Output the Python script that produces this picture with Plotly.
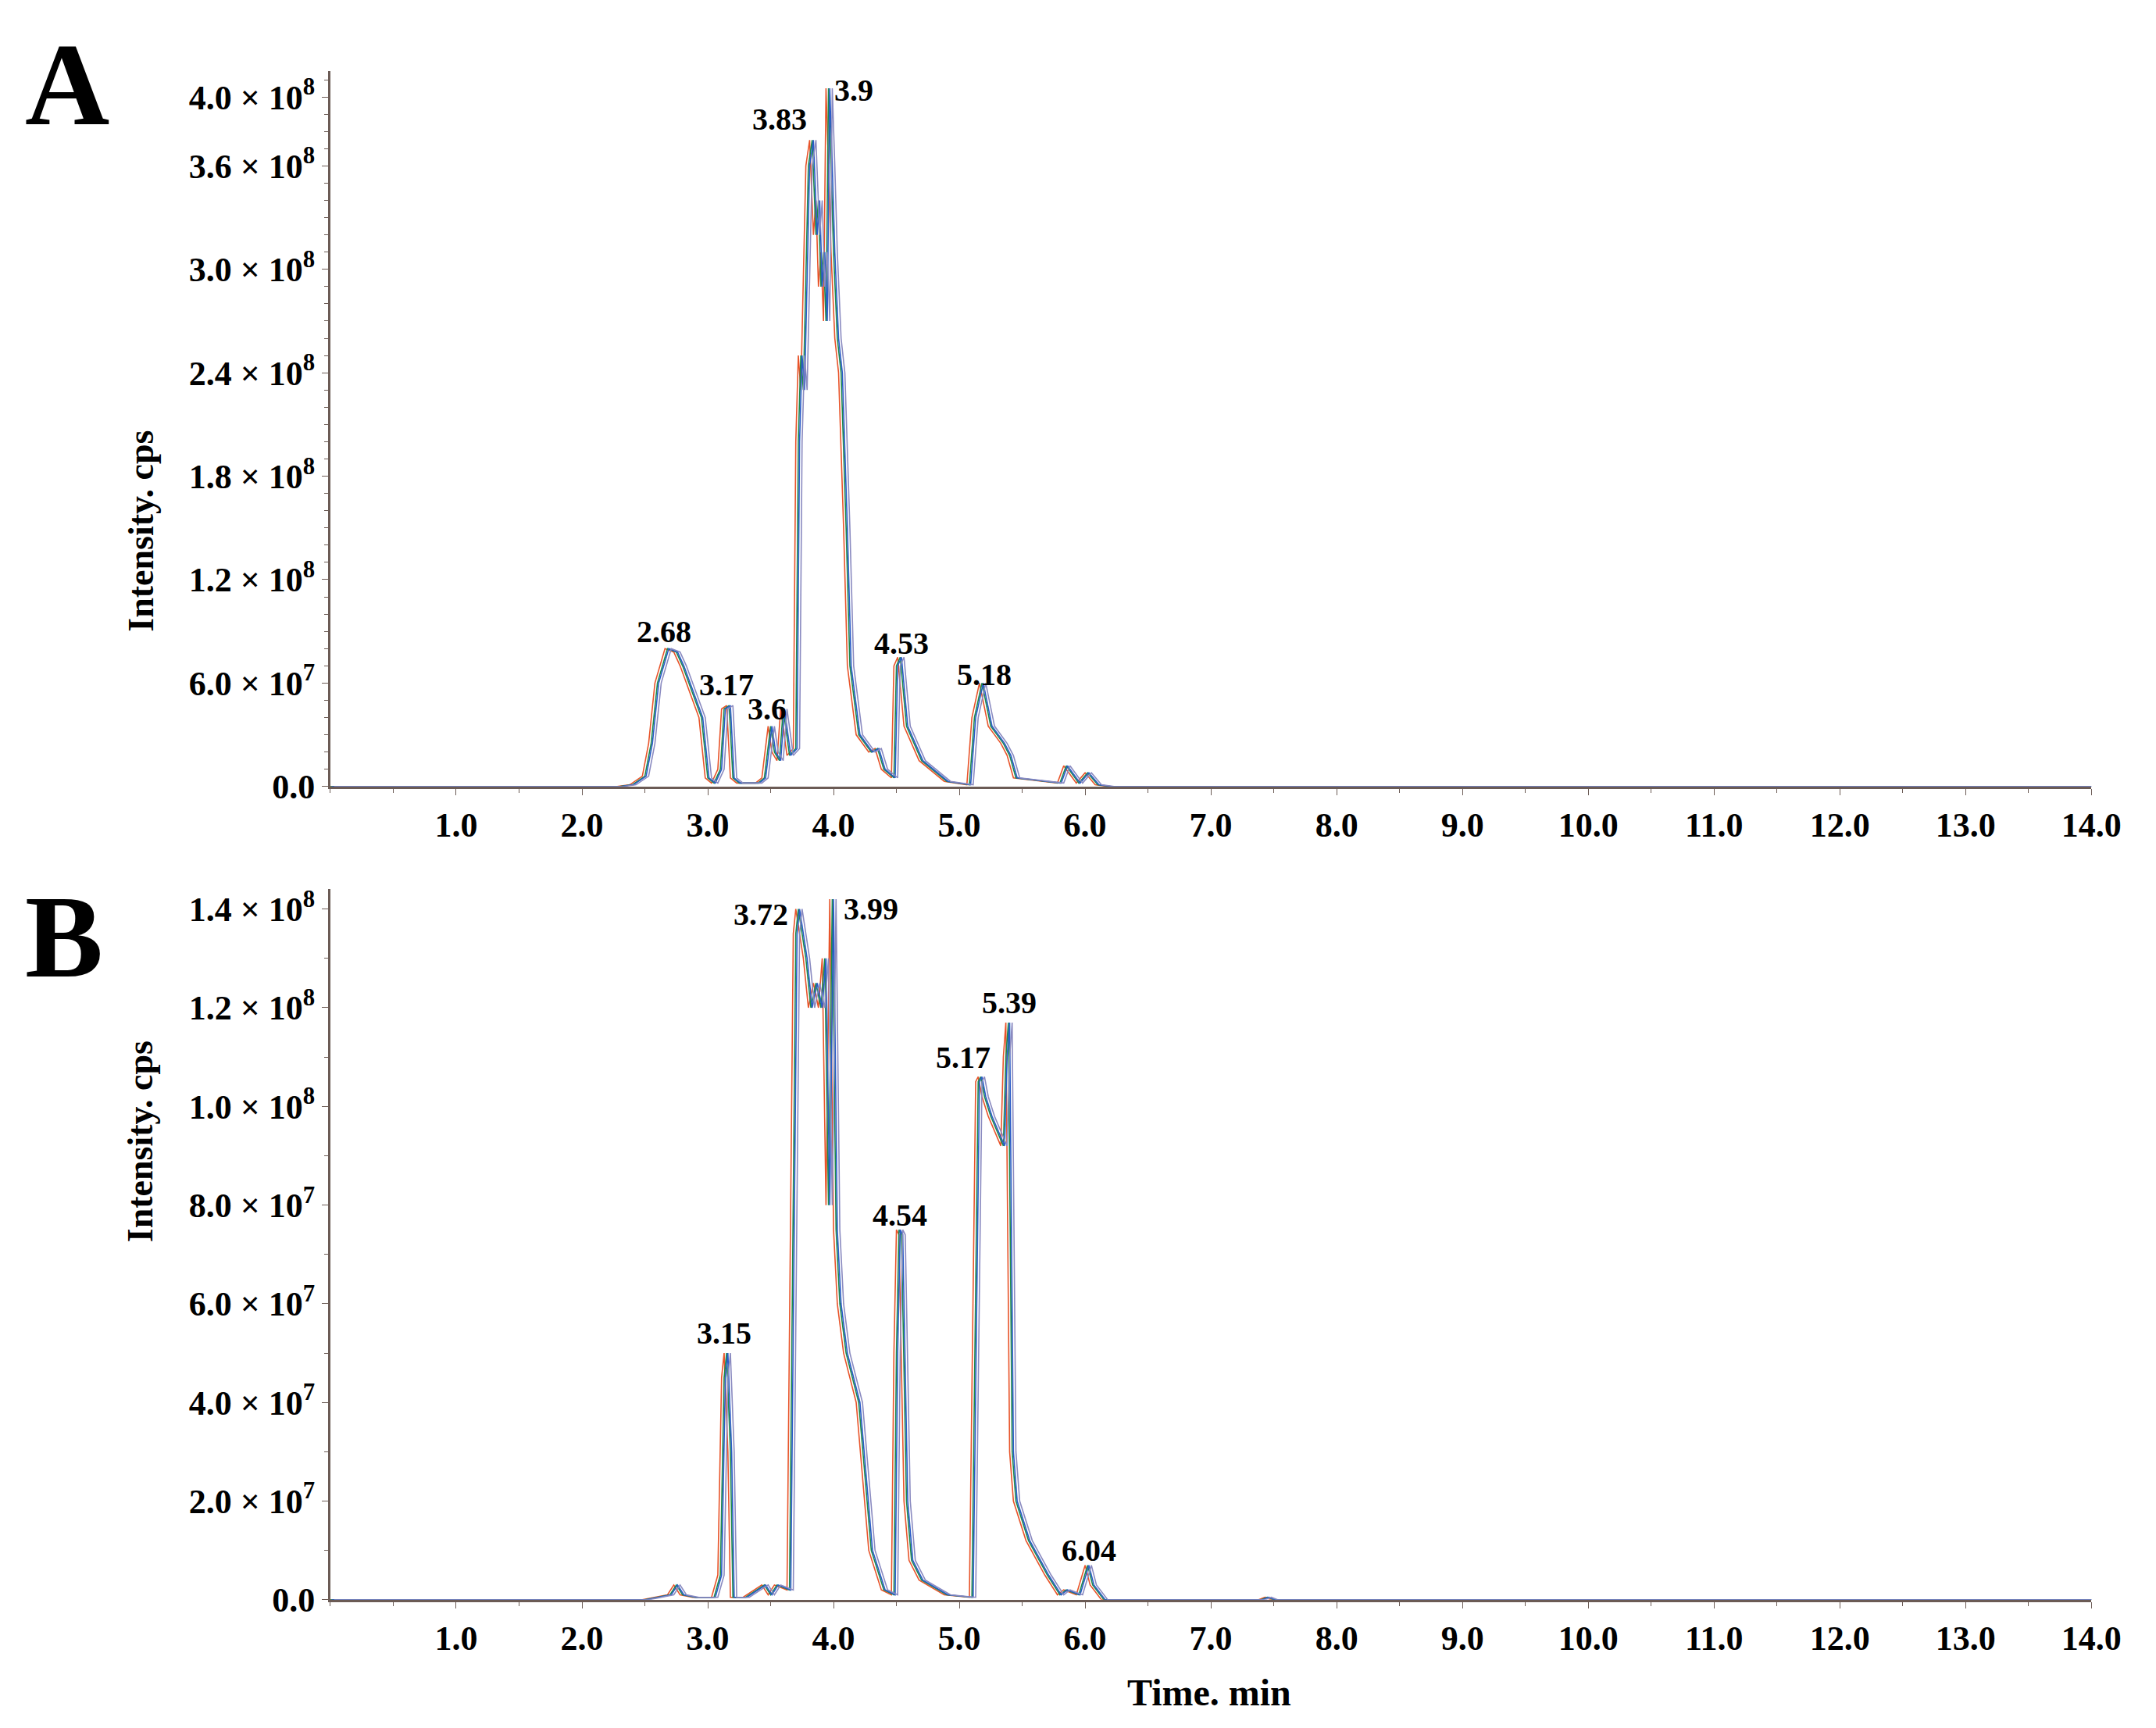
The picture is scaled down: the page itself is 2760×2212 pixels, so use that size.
import plotly.graph_objects as go

# panel A chromatogram (time in min, intensity in units of 1e8 cps)
time_a = [0, 2.3, 2.4, 2.5, 2.55, 2.6, 2.68, 2.75, 2.8, 2.9, 2.95, 3.0, 3.05, 3.1, 3.13, 3.17, 3.2, 3.25,
          3.4, 3.45, 3.5, 3.53, 3.57, 3.6, 3.65, 3.7, 3.72, 3.74, 3.76, 3.8, 3.83, 3.86, 3.88, 3.9, 3.92,
          3.94, 3.96, 3.98, 4.0, 4.03, 4.06, 4.1, 4.13, 4.2, 4.3, 4.35, 4.4, 4.48, 4.5, 4.53, 4.58, 4.7,
          4.9, 5.08, 5.12, 5.18, 5.25, 5.35, 5.4, 5.45, 5.7, 5.8, 5.85, 5.95, 6.02, 6.1, 6.2, 14]
int_a = [0, 0, 0.01, 0.06, 0.25, 0.6, 0.8, 0.78, 0.7, 0.5, 0.4, 0.05, 0.02, 0.1, 0.45, 0.47, 0.05, 0.02,
         0.02, 0.05, 0.35, 0.2, 0.15, 0.45, 0.18, 0.22, 2.0, 2.5, 2.3, 3.6, 3.75, 3.2, 3.4, 2.9, 3.1,
         2.7, 4.05, 3.6, 3.1, 2.6, 2.4, 1.5, 0.7, 0.3, 0.2, 0.22, 0.1, 0.05, 0.7, 0.75, 0.35, 0.15,
         0.03, 0.01, 0.4, 0.6, 0.35, 0.25, 0.18, 0.05, 0.03, 0.02, 0.12, 0.02, 0.08, 0.01, 0, 0]

# panel B chromatogram
time_b = [0, 2.5, 2.7, 2.75, 2.8, 2.9, 3.05, 3.1, 3.13, 3.15, 3.18, 3.2, 3.3, 3.45, 3.5, 3.55, 3.65, 3.68,
          3.70, 3.72, 3.78, 3.82, 3.86, 3.9, 3.93, 3.96, 3.99, 4.02, 4.05, 4.1, 4.15, 4.2, 4.3, 4.4, 4.48,
          4.5, 4.52, 4.54, 4.58, 4.62, 4.7, 4.9, 5.1, 5.13, 5.15, 5.17, 5.2, 5.25, 5.3, 5.35, 5.37, 5.39,
          5.42, 5.45, 5.55, 5.7, 5.8, 5.85, 5.95, 6.02, 6.06, 6.15, 7.4, 7.45, 7.5, 14]
int_b = [0, 0, 0.01, 0.03, 0.01, 0.005, 0.005, 0.05, 0.45, 0.5, 0.3, 0.005, 0.005, 0.03, 0.01, 0.03, 0.02,
         0.8, 1.35, 1.4, 1.3, 1.2, 1.25, 1.2, 1.3, 0.8, 1.42, 0.75, 0.6, 0.5, 0.45, 0.4, 0.1, 0.02, 0.01,
         0.5, 0.75, 0.74, 0.2, 0.08, 0.04, 0.01, 0.005, 0.6, 1.05, 1.06, 1.02, 0.98, 0.95, 0.92, 1.1, 1.17,
         0.3, 0.2, 0.12, 0.05, 0.01, 0.02, 0.01, 0.07, 0.03, 0.0, 0, 0.005, 0, 0]

trace_colors = ["#e8542a", "#1f8a4c", "#2a5cc8", "#8a8ac0"]
trace_shift = [-0.02, 0.0, 0.01, 0.03]

labels_a = ["3.83", "3.9", "2.68", "3.17", "3.6", "4.53", "5.18"]
label_a_x = [3.57, 4.16, 2.65, 3.15, 3.47, 4.54, 5.2]
label_a_y = [3.87, 4.04, 0.9, 0.59, 0.45, 0.83, 0.65]
labels_b = ["3.72", "3.99", "3.15", "4.54", "5.17", "5.39", "6.04"]
label_b_x = [3.42, 4.3, 3.13, 4.53, 5.03, 5.4, 6.03]
label_b_y = [1.39, 1.40, 0.54, 0.78, 1.1, 1.21, 0.1]

yticks_a = [0, 0.6, 1.2, 1.8, 2.4, 3.0, 3.6, 4.0]
yticktext_a = ["0.0", "6.0 × 10<sup>7</sup>", "1.2 × 10<sup>8</sup>", "1.8 × 10<sup>8</sup>",
               "2.4 × 10<sup>8</sup>", "3.0 × 10<sup>8</sup>", "3.6 × 10<sup>8</sup>", "4.0 × 10<sup>8</sup>"]
yticks_b = [0, 0.2, 0.4, 0.6, 0.8, 1.0, 1.2, 1.4]
yticktext_b = ["0.0", "2.0 × 10<sup>7</sup>", "4.0 × 10<sup>7</sup>", "6.0 × 10<sup>7</sup>",
               "8.0 × 10<sup>7</sup>", "1.0 × 10<sup>8</sup>", "1.2 × 10<sup>8</sup>", "1.4 × 10<sup>8</sup>"]
xticks = [1, 2, 3, 4, 5, 6, 7, 8, 9, 10, 11, 12, 13, 14]

FONT = "Liberation Serif"
fig = go.Figure()
for c, s in zip(trace_colors, trace_shift):
    fig.add_trace(go.Scatter(x=[t + s for t in time_a], y=int_a, mode="lines",
                             line=dict(color=c, width=1.6), xaxis="x", yaxis="y", showlegend=False))
    fig.add_trace(go.Scatter(x=[t + s for t in time_b], y=int_b, mode="lines",
                             line=dict(color=c, width=1.6), xaxis="x2", yaxis="y2", showlegend=False))

tickfont = dict(family=FONT, size=44, color="black", weight="bold")
common_x = dict(range=[0, 14], tickvals=xticks, ticktext=["%.1f" % v for v in xticks],
                showline=True, linecolor="#6b5b55", linewidth=3, ticks="outside", ticklen=8,
                tickcolor="#6b5b55", showgrid=False, zeroline=False, tickfont=tickfont,
                minor=dict(ticks="outside", ticklen=5, dtick=0.5, tickcolor="#6b5b55"))
common_y = dict(showline=True, linecolor="#6b5b55", linewidth=3, ticks="outside", ticklen=8,
                tickcolor="#6b5b55", showgrid=False, zeroline=False, tickfont=tickfont,
                minor=dict(ticks="outside", ticklen=5, dtick=0.1, tickcolor="#6b5b55"))

fig.update_layout(
    width=2760, height=2212, plot_bgcolor="white", paper_bgcolor="white",
    margin=dict(l=0, r=0, t=0, b=0),
    font=dict(family=FONT, color="black"),
    xaxis=dict(domain=[0.1525, 0.981], anchor="y", **common_x),
    yaxis=dict(domain=[0.5443, 0.9638], range=[0, 4.15], anchor="x",
               tickvals=yticks_a, ticktext=yticktext_a, **common_y),
    xaxis2=dict(domain=[0.1525, 0.981], anchor="y2", **common_x),
    yaxis2=dict(domain=[0.0674, 0.484], range=[0, 1.44], anchor="x2",
                tickvals=yticks_b, ticktext=yticktext_b, **common_y),
)

ann = []
for t, x, y in zip(labels_a, label_a_x, label_a_y):
    ann.append(dict(text="<b>%s</b>" % t, x=x, y=y, xref="x", yref="y", showarrow=False,
                    font=dict(size=40)))
for t, x, y in zip(labels_b, label_b_x, label_b_y):
    ann.append(dict(text="<b>%s</b>" % t, x=x, y=y, xref="x2", yref="y2", showarrow=False,
                    font=dict(size=40)))
ann += [
    dict(text="<b>A</b>", x=0.008, y=0.995, xref="paper", yref="paper", xanchor="left", yanchor="top",
         showarrow=False, font=dict(size=150)),
    dict(text="<b>B</b>", x=0.008, y=0.495, xref="paper", yref="paper", xanchor="left", yanchor="top",
         showarrow=False, font=dict(size=150)),
    dict(text="<b>Intensity. cps</b>", x=0.053, y=0.754, xref="paper", yref="paper", textangle=-90,
         showarrow=False, font=dict(size=46)),
    dict(text="<b>Intensity. cps</b>", x=0.053, y=0.276, xref="paper", yref="paper", textangle=-90,
         showarrow=False, font=dict(size=46)),
    dict(text="<b>Time. min</b>", x=0.566, y=0.0, xref="paper", yref="paper", yanchor="bottom",
         showarrow=False, font=dict(size=48)),
]
fig.update_layout(annotations=ann)
fig.write_html("out.html")
